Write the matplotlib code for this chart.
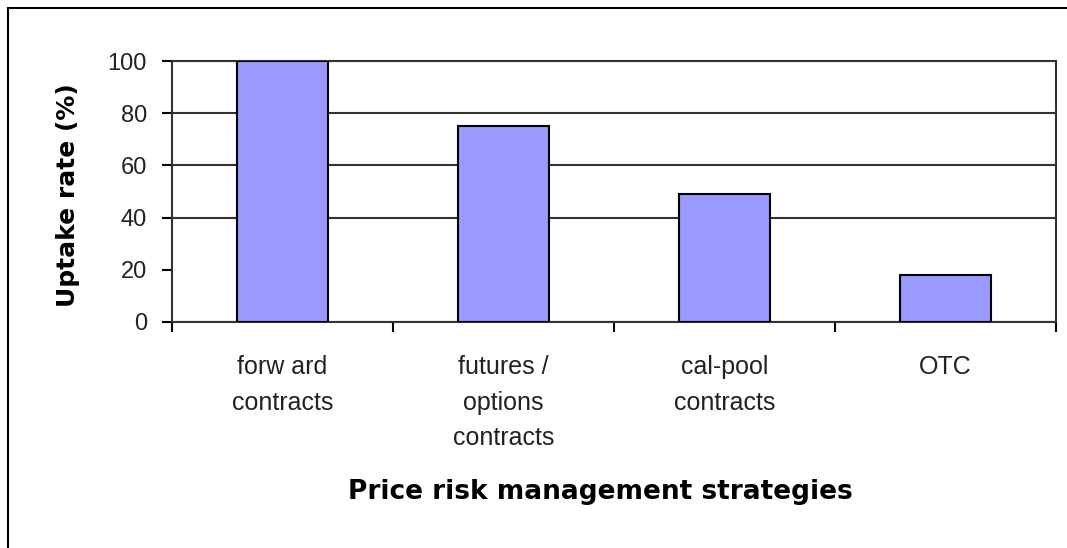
import matplotlib.pyplot as plt
from matplotlib.patches import Rectangle

# data
categories = ["forw ard\ncontracts", "futures /\noptions\ncontracts", "cal-pool\ncontracts", "OTC"]
uptake = [100, 75, 49, 18]
yticks = [0, 20, 40, 60, 80, 100]

plt.rcParams['font.family'] = ['Liberation Sans', 'DejaVu Sans']

fig = plt.figure(figsize=(10.67, 5.48), dpi=100)
ax = fig.add_axes([172/1067, 1 - 322/548, (1056 - 172)/1067, (322 - 61)/548])

x = list(range(len(categories)))
ax.bar(x, uptake, width=0.41, color='#9999FF', edgecolor='black', linewidth=1.5, zorder=3)

ax.set_xlim(-0.5, len(categories) - 0.5)
ax.set_ylim(0, 100)
ax.set_yticks(yticks)
ax.set_yticklabels([str(v) for v in yticks], fontsize=17, color='#222222')

# category labels centred, tick marks on the boundaries
ax.set_xticks(x)
ax.set_xticklabels(categories, fontsize=18, color='#222222', linespacing=1.6)
ax.tick_params(axis='x', which='major', length=0, pad=24)
ax.set_xticks([i - 0.5 for i in range(len(categories) + 1)], minor=True)
ax.tick_params(axis='x', which='minor', length=7, width=1.5, direction='out')
ax.tick_params(axis='y', length=7, width=1.5, direction='out', pad=11)

ax.grid(axis='y', color='#333333', linewidth=1.5, zorder=1)
ax.yaxis.get_gridlines()[1].set_visible(False)

for s in ['left', 'right', 'bottom', 'top']:
    ax.spines[s].set_linewidth(1.5)
    ax.spines[s].set_color('#333333')

ax.set_ylabel('Uptake rate (%)', fontsize=18, fontweight='bold', family='DejaVu Sans')
ax.yaxis.set_label_coords(-0.118, 0.487)
ax.yaxis.label.set_va('center')
ax.set_xlabel('Price risk management strategies', fontsize=19, fontweight='bold', family='DejaVu Sans')
ax.xaxis.set_label_coords(0.485, -0.651)
ax.xaxis.label.set_va('center')

# outer chart frame
fig.patches.append(Rectangle((8/1067, -0.1), 1.2, 1 - 8/548 + 0.1, transform=fig.transFigure,
                             fill=False, edgecolor='black', linewidth=1.5))

fig.savefig('out.png', dpi=100)
plt.close()
